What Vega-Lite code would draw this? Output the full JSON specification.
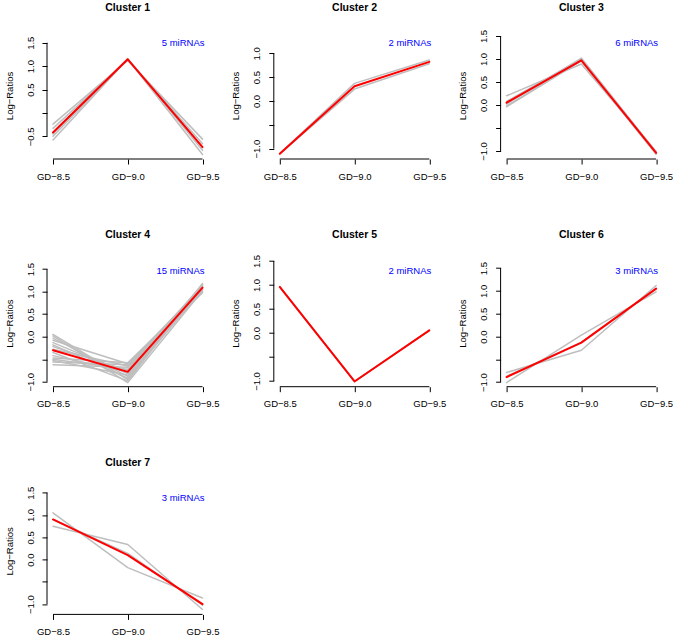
{
  "$schema": "https://vega.github.io/schema/vega-lite/v6.json",
  "padding": {"left": 4, "top": 2, "right": 0, "bottom": 0},
  "background": "white",
  "columns": 3,
  "bounds": "flush",
  "spacing": {"row": 82.7, "column": 64.8},
  "datasets": {
    "series": [
      {"cluster": 1, "series": "m1", "stage": 8.5, "value": -0.24}, {"cluster": 1, "series": "m1", "stage": 9.0, "value": 1.12}, {"cluster": 1, "series": "m1", "stage": 9.5, "value": -0.56},
      {"cluster": 1, "series": "m2", "stage": 8.5, "value": -0.33}, {"cluster": 1, "series": "m2", "stage": 9.0, "value": 1.14}, {"cluster": 1, "series": "m2", "stage": 9.5, "value": -0.66},
      {"cluster": 1, "series": "m3", "stage": 8.5, "value": -0.45}, {"cluster": 1, "series": "m3", "stage": 9.0, "value": 1.16}, {"cluster": 1, "series": "m3", "stage": 9.5, "value": -0.74},
      {"cluster": 1, "series": "m4", "stage": 8.5, "value": -0.50}, {"cluster": 1, "series": "m4", "stage": 9.0, "value": 1.15}, {"cluster": 1, "series": "m4", "stage": 9.5, "value": -0.80},
      {"cluster": 1, "series": "m5", "stage": 8.5, "value": -0.58}, {"cluster": 1, "series": "m5", "stage": 9.0, "value": 1.15}, {"cluster": 1, "series": "m5", "stage": 9.5, "value": -0.89},
      {"cluster": 1, "series": "center", "stage": 8.5, "value": -0.42}, {"cluster": 1, "series": "center", "stage": 9.0, "value": 1.145}, {"cluster": 1, "series": "center", "stage": 9.5, "value": -0.73},

      {"cluster": 2, "series": "m1", "stage": 8.5, "value": -1.10}, {"cluster": 2, "series": "m1", "stage": 9.0, "value": 0.37}, {"cluster": 2, "series": "m1", "stage": 9.5, "value": 0.86},
      {"cluster": 2, "series": "m2", "stage": 8.5, "value": -1.11}, {"cluster": 2, "series": "m2", "stage": 9.0, "value": 0.25}, {"cluster": 2, "series": "m2", "stage": 9.5, "value": 0.78},
      {"cluster": 2, "series": "center", "stage": 8.5, "value": -1.105}, {"cluster": 2, "series": "center", "stage": 9.0, "value": 0.31}, {"cluster": 2, "series": "center", "stage": 9.5, "value": 0.82},

      {"cluster": 3, "series": "m1", "stage": 8.5, "value": 0.20}, {"cluster": 3, "series": "m1", "stage": 9.0, "value": 0.89}, {"cluster": 3, "series": "m1", "stage": 9.5, "value": -1.01},
      {"cluster": 3, "series": "m2", "stage": 8.5, "value": 0.08}, {"cluster": 3, "series": "m2", "stage": 9.0, "value": 1.00}, {"cluster": 3, "series": "m2", "stage": 9.5, "value": -1.03},
      {"cluster": 3, "series": "m3", "stage": 8.5, "value": 0.04}, {"cluster": 3, "series": "m3", "stage": 9.0, "value": 0.98}, {"cluster": 3, "series": "m3", "stage": 9.5, "value": -1.05},
      {"cluster": 3, "series": "m4", "stage": 8.5, "value": 0.02}, {"cluster": 3, "series": "m4", "stage": 9.0, "value": 1.02}, {"cluster": 3, "series": "m4", "stage": 9.5, "value": -1.02},
      {"cluster": 3, "series": "m5", "stage": 8.5, "value": -0.02}, {"cluster": 3, "series": "m5", "stage": 9.0, "value": 0.97}, {"cluster": 3, "series": "m5", "stage": 9.5, "value": -1.06},
      {"cluster": 3, "series": "m6", "stage": 8.5, "value": -0.04}, {"cluster": 3, "series": "m6", "stage": 9.0, "value": 0.96}, {"cluster": 3, "series": "m6", "stage": 9.5, "value": -1.07},
      {"cluster": 3, "series": "center", "stage": 8.5, "value": 0.05}, {"cluster": 3, "series": "center", "stage": 9.0, "value": 0.97}, {"cluster": 3, "series": "center", "stage": 9.5, "value": -1.04},

      {"cluster": 4, "series": "m1", "stage": 8.5, "value": 0.05}, {"cluster": 4, "series": "m1", "stage": 9.0, "value": -0.95}, {"cluster": 4, "series": "m1", "stage": 9.5, "value": 1.18},
      {"cluster": 4, "series": "m2", "stage": 8.5, "value": 0.02}, {"cluster": 4, "series": "m2", "stage": 9.0, "value": -1.02}, {"cluster": 4, "series": "m2", "stage": 9.5, "value": 1.02},
      {"cluster": 4, "series": "m3", "stage": 8.5, "value": -0.03}, {"cluster": 4, "series": "m3", "stage": 9.0, "value": -0.88}, {"cluster": 4, "series": "m3", "stage": 9.5, "value": 1.12},
      {"cluster": 4, "series": "m4", "stage": 8.5, "value": -0.08}, {"cluster": 4, "series": "m4", "stage": 9.0, "value": -0.60}, {"cluster": 4, "series": "m4", "stage": 9.5, "value": 0.98},
      {"cluster": 4, "series": "m5", "stage": 8.5, "value": -0.13}, {"cluster": 4, "series": "m5", "stage": 9.0, "value": -0.82}, {"cluster": 4, "series": "m5", "stage": 9.5, "value": 1.15},
      {"cluster": 4, "series": "m6", "stage": 8.5, "value": -0.18}, {"cluster": 4, "series": "m6", "stage": 9.0, "value": -0.92}, {"cluster": 4, "series": "m6", "stage": 9.5, "value": 1.05},
      {"cluster": 4, "series": "m7", "stage": 8.5, "value": -0.22}, {"cluster": 4, "series": "m7", "stage": 9.0, "value": -0.75}, {"cluster": 4, "series": "m7", "stage": 9.5, "value": 1.10},
      {"cluster": 4, "series": "m8", "stage": 8.5, "value": -0.28}, {"cluster": 4, "series": "m8", "stage": 9.0, "value": -0.65}, {"cluster": 4, "series": "m8", "stage": 9.5, "value": 1.00},
      {"cluster": 4, "series": "m9", "stage": 8.5, "value": -0.35}, {"cluster": 4, "series": "m9", "stage": 9.0, "value": -0.98}, {"cluster": 4, "series": "m9", "stage": 9.5, "value": 1.14},
      {"cluster": 4, "series": "m10", "stage": 8.5, "value": -0.42}, {"cluster": 4, "series": "m10", "stage": 9.0, "value": -0.78}, {"cluster": 4, "series": "m10", "stage": 9.5, "value": 1.08},
      {"cluster": 4, "series": "m11", "stage": 8.5, "value": -0.47}, {"cluster": 4, "series": "m11", "stage": 9.0, "value": -0.58}, {"cluster": 4, "series": "m11", "stage": 9.5, "value": 1.03},
      {"cluster": 4, "series": "m12", "stage": 8.5, "value": -0.50}, {"cluster": 4, "series": "m12", "stage": 9.0, "value": -0.72}, {"cluster": 4, "series": "m12", "stage": 9.5, "value": 1.16},
      {"cluster": 4, "series": "m13", "stage": 8.5, "value": -0.53}, {"cluster": 4, "series": "m13", "stage": 9.0, "value": -0.85}, {"cluster": 4, "series": "m13", "stage": 9.5, "value": 1.06},
      {"cluster": 4, "series": "m14", "stage": 8.5, "value": -0.56}, {"cluster": 4, "series": "m14", "stage": 9.0, "value": -0.62}, {"cluster": 4, "series": "m14", "stage": 9.5, "value": 1.11},
      {"cluster": 4, "series": "m15", "stage": 8.5, "value": -0.62}, {"cluster": 4, "series": "m15", "stage": 9.0, "value": -0.68}, {"cluster": 4, "series": "m15", "stage": 9.5, "value": 1.09},
      {"cluster": 4, "series": "center", "stage": 8.5, "value": -0.30}, {"cluster": 4, "series": "center", "stage": 9.0, "value": -0.78}, {"cluster": 4, "series": "center", "stage": 9.5, "value": 1.09},

      {"cluster": 5, "series": "m1", "stage": 8.5, "value": 0.96}, {"cluster": 5, "series": "m1", "stage": 9.0, "value": -1.01}, {"cluster": 5, "series": "m1", "stage": 9.5, "value": 0.055},
      {"cluster": 5, "series": "m2", "stage": 8.5, "value": 0.96}, {"cluster": 5, "series": "m2", "stage": 9.0, "value": -1.01}, {"cluster": 5, "series": "m2", "stage": 9.5, "value": 0.055},
      {"cluster": 5, "series": "center", "stage": 8.5, "value": 0.96}, {"cluster": 5, "series": "center", "stage": 9.0, "value": -1.01}, {"cluster": 5, "series": "center", "stage": 9.5, "value": 0.055},

      {"cluster": 6, "series": "m1", "stage": 8.5, "value": -0.79}, {"cluster": 6, "series": "m1", "stage": 9.0, "value": -0.30}, {"cluster": 6, "series": "m1", "stage": 9.5, "value": 1.12},
      {"cluster": 6, "series": "m2", "stage": 8.5, "value": -1.01}, {"cluster": 6, "series": "m2", "stage": 9.0, "value": 0.03}, {"cluster": 6, "series": "m2", "stage": 9.5, "value": 0.98},
      {"cluster": 6, "series": "m3", "stage": 8.5, "value": -0.87}, {"cluster": 6, "series": "m3", "stage": 9.0, "value": -0.13}, {"cluster": 6, "series": "m3", "stage": 9.5, "value": 1.05},
      {"cluster": 6, "series": "center", "stage": 8.5, "value": -0.89}, {"cluster": 6, "series": "center", "stage": 9.0, "value": -0.135}, {"cluster": 6, "series": "center", "stage": 9.5, "value": 1.05},

      {"cluster": 7, "series": "m1", "stage": 8.5, "value": 1.05}, {"cluster": 7, "series": "m1", "stage": 9.0, "value": -0.18}, {"cluster": 7, "series": "m1", "stage": 9.5, "value": -0.86},
      {"cluster": 7, "series": "m2", "stage": 8.5, "value": 0.75}, {"cluster": 7, "series": "m2", "stage": 9.0, "value": 0.34}, {"cluster": 7, "series": "m2", "stage": 9.5, "value": -1.12},
      {"cluster": 7, "series": "m3", "stage": 8.5, "value": 0.90}, {"cluster": 7, "series": "m3", "stage": 9.0, "value": 0.14}, {"cluster": 7, "series": "m3", "stage": 9.5, "value": -1.02},
      {"cluster": 7, "series": "center", "stage": 8.5, "value": 0.90}, {"cluster": 7, "series": "center", "stage": 9.0, "value": 0.10}, {"cluster": 7, "series": "center", "stage": 9.5, "value": -1.00}
    ],
    "counts": [
      {"cluster": 1, "label": "5 miRNAs"},
      {"cluster": 2, "label": "2 miRNAs"},
      {"cluster": 3, "label": "6 miRNAs"},
      {"cluster": 4, "label": "15 miRNAs"},
      {"cluster": 5, "label": "2 miRNAs"},
      {"cluster": 6, "label": "3 miRNAs"},
      {"cluster": 7, "label": "3 miRNAs"}
    ]
  },
  "concat": [
    {
      "width": 161.5, "height": 145,
      "title": {"text": "Cluster 1", "frame": "group"},
      "layer": [
        {"data": {"name": "series"}, "transform": [{"filter": "datum.cluster == 1 && datum.series != 'center'"}],
         "mark": {"type": "line", "color": "#bebebe", "strokeWidth": 1.5, "strokeJoin": "round", "strokeCap": "round"},
         "encoding": {
           "x": {"field": "stage", "type": "quantitative", "scale": {"domain": [8.46, 9.54], "nice": false, "zero": false}, "axis": {"values": [8.5, 9, 9.5], "tickCount": 10, "labelExpr": "'GD−' + format(datum.value, '.1f')", "title": null}},
           "y": {"field": "value", "type": "quantitative", "scale": {"domain": [-0.985, 2.114], "nice": false, "zero": false}, "axis": {"values": [-0.5, 0, 0.5, 1, 1.5], "tickCount": 10, "labelExpr": "datum.value == 0 ? '' : format(datum.value, '.1f')", "title": "Log−Ratios"}},
           "detail": {"field": "series", "type": "nominal"}}},
        {"data": {"name": "series"}, "transform": [{"filter": "datum.cluster == 1 && datum.series == 'center'"}],
         "mark": {"type": "line", "color": "#ff0000", "strokeWidth": 2, "strokeJoin": "round", "strokeCap": "round"},
         "encoding": {"x": {"field": "stage", "type": "quantitative", "title": null}, "y": {"field": "value", "type": "quantitative", "title": "Log−Ratios"}}},
        {"data": {"name": "counts"}, "transform": [{"filter": "datum.cluster == 1"}],
         "mark": {"type": "text", "align": "right", "baseline": "middle", "dx": -4, "dy": 11, "color": "#0000ff", "font": "Liberation Sans", "fontSize": 9.5},
         "encoding": {"x": {"datum": 9.54}, "y": {"datum": 1.729}, "text": {"field": "label"}}},
        {"data": {"name": "counts"}, "transform": [{"filter": "datum.cluster == 1"}],
         "mark": {"type": "rule", "color": "black", "strokeWidth": 1},
         "encoding": {"x": {"datum": 8.46}, "y": {"datum": -0.5}, "y2": {"datum": 1.5}}},
        {"data": {"name": "counts"}, "transform": [{"filter": "datum.cluster == 1"}],
         "mark": {"type": "rule", "color": "black", "strokeWidth": 1},
         "encoding": {"x": {"datum": 8.5}, "x2": {"datum": 9.5}, "y": {"datum": -0.985}}}
      ]
    },
    {
      "width": 161.5, "height": 145,
      "title": {"text": "Cluster 2", "frame": "group"},
      "layer": [
        {"data": {"name": "series"}, "transform": [{"filter": "datum.cluster == 2 && datum.series != 'center'"}],
         "mark": {"type": "line", "color": "#bebebe", "strokeWidth": 1.5, "strokeJoin": "round", "strokeCap": "round"},
         "encoding": {
           "x": {"field": "stage", "type": "quantitative", "scale": {"domain": [8.46, 9.54], "nice": false, "zero": false}, "axis": {"values": [8.5, 9, 9.5], "tickCount": 10, "labelExpr": "'GD−' + format(datum.value, '.1f')", "title": null}},
           "y": {"field": "value", "type": "quantitative", "scale": {"domain": [-1.216, 1.824], "nice": false, "zero": false}, "axis": {"values": [-1, -0.5, 0, 0.5, 1], "tickCount": 10, "labelExpr": "datum.value == -0.5 ? '' : format(datum.value, '.1f')", "title": "Log−Ratios"}},
           "detail": {"field": "series", "type": "nominal"}}},
        {"data": {"name": "series"}, "transform": [{"filter": "datum.cluster == 2 && datum.series == 'center'"}],
         "mark": {"type": "line", "color": "#ff0000", "strokeWidth": 2, "strokeJoin": "round", "strokeCap": "round"},
         "encoding": {"x": {"field": "stage", "type": "quantitative", "title": null}, "y": {"field": "value", "type": "quantitative", "title": "Log−Ratios"}}},
        {"data": {"name": "counts"}, "transform": [{"filter": "datum.cluster == 2"}],
         "mark": {"type": "text", "align": "right", "baseline": "middle", "dx": -4, "dy": 11, "color": "#0000ff", "font": "Liberation Sans", "fontSize": 9.5},
         "encoding": {"x": {"datum": 9.54}, "y": {"datum": 1.447}, "text": {"field": "label"}}},
        {"data": {"name": "counts"}, "transform": [{"filter": "datum.cluster == 2"}],
         "mark": {"type": "rule", "color": "black", "strokeWidth": 1},
         "encoding": {"x": {"datum": 8.46}, "y": {"datum": -1}, "y2": {"datum": 1}}},
        {"data": {"name": "counts"}, "transform": [{"filter": "datum.cluster == 2"}],
         "mark": {"type": "rule", "color": "black", "strokeWidth": 1},
         "encoding": {"x": {"datum": 8.5}, "x2": {"datum": 9.5}, "y": {"datum": -1.216}}}
      ]
    },
    {
      "width": 161.5, "height": 145,
      "title": {"text": "Cluster 3", "frame": "group"},
      "layer": [
        {"data": {"name": "series"}, "transform": [{"filter": "datum.cluster == 3 && datum.series != 'center'"}],
         "mark": {"type": "line", "color": "#bebebe", "strokeWidth": 1.5, "strokeJoin": "round", "strokeCap": "round"},
         "encoding": {
           "x": {"field": "stage", "type": "quantitative", "scale": {"domain": [8.46, 9.54], "nice": false, "zero": false}, "axis": {"values": [8.5, 9, 9.5], "tickCount": 10, "labelExpr": "'GD−' + format(datum.value, '.1f')", "title": null}},
           "y": {"field": "value", "type": "quantitative", "scale": {"domain": [-1.174, 1.978], "nice": false, "zero": false}, "axis": {"values": [-1, -0.5, 0, 0.5, 1, 1.5], "tickCount": 10, "labelExpr": "datum.value == -0.5 ? '' : format(datum.value, '.1f')", "title": "Log−Ratios"}},
           "detail": {"field": "series", "type": "nominal"}}},
        {"data": {"name": "series"}, "transform": [{"filter": "datum.cluster == 3 && datum.series == 'center'"}],
         "mark": {"type": "line", "color": "#ff0000", "strokeWidth": 2, "strokeJoin": "round", "strokeCap": "round"},
         "encoding": {"x": {"field": "stage", "type": "quantitative", "title": null}, "y": {"field": "value", "type": "quantitative", "title": "Log−Ratios"}}},
        {"data": {"name": "counts"}, "transform": [{"filter": "datum.cluster == 3"}],
         "mark": {"type": "text", "align": "right", "baseline": "middle", "dx": -4, "dy": 11, "color": "#0000ff", "font": "Liberation Sans", "fontSize": 9.5},
         "encoding": {"x": {"datum": 9.54}, "y": {"datum": 1.587}, "text": {"field": "label"}}},
        {"data": {"name": "counts"}, "transform": [{"filter": "datum.cluster == 3"}],
         "mark": {"type": "rule", "color": "black", "strokeWidth": 1},
         "encoding": {"x": {"datum": 8.46}, "y": {"datum": -1}, "y2": {"datum": 1.5}}},
        {"data": {"name": "counts"}, "transform": [{"filter": "datum.cluster == 3"}],
         "mark": {"type": "rule", "color": "black", "strokeWidth": 1},
         "encoding": {"x": {"datum": 8.5}, "x2": {"datum": 9.5}, "y": {"datum": -1.174}}}
      ]
    },
    {
      "width": 161.5, "height": 145,
      "title": {"text": "Cluster 4", "frame": "group"},
      "layer": [
        {"data": {"name": "series"}, "transform": [{"filter": "datum.cluster == 4 && datum.series != 'center'"}],
         "mark": {"type": "line", "color": "#bebebe", "strokeWidth": 1.5, "strokeJoin": "round", "strokeCap": "round"},
         "encoding": {
           "x": {"field": "stage", "type": "quantitative", "scale": {"domain": [8.46, 9.54], "nice": false, "zero": false}, "axis": {"values": [8.5, 9, 9.5], "tickCount": 10, "labelExpr": "'GD−' + format(datum.value, '.1f')", "title": null}},
           "y": {"field": "value", "type": "quantitative", "scale": {"domain": [-1.11, 2.11], "nice": false, "zero": false}, "axis": {"values": [-1, -0.5, 0, 0.5, 1, 1.5], "tickCount": 10, "labelExpr": "datum.value == -0.5 ? '' : format(datum.value, '.1f')", "title": "Log−Ratios"}},
           "detail": {"field": "series", "type": "nominal"}}},
        {"data": {"name": "series"}, "transform": [{"filter": "datum.cluster == 4 && datum.series == 'center'"}],
         "mark": {"type": "line", "color": "#ff0000", "strokeWidth": 2, "strokeJoin": "round", "strokeCap": "round"},
         "encoding": {"x": {"field": "stage", "type": "quantitative", "title": null}, "y": {"field": "value", "type": "quantitative", "title": "Log−Ratios"}}},
        {"data": {"name": "counts"}, "transform": [{"filter": "datum.cluster == 4"}],
         "mark": {"type": "text", "align": "right", "baseline": "middle", "dx": -4, "dy": 11, "color": "#0000ff", "font": "Liberation Sans", "fontSize": 9.5},
         "encoding": {"x": {"datum": 9.54}, "y": {"datum": 1.71}, "text": {"field": "label"}}},
        {"data": {"name": "counts"}, "transform": [{"filter": "datum.cluster == 4"}],
         "mark": {"type": "rule", "color": "black", "strokeWidth": 1},
         "encoding": {"x": {"datum": 8.46}, "y": {"datum": -1}, "y2": {"datum": 1.5}}},
        {"data": {"name": "counts"}, "transform": [{"filter": "datum.cluster == 4"}],
         "mark": {"type": "rule", "color": "black", "strokeWidth": 1},
         "encoding": {"x": {"datum": 8.5}, "x2": {"datum": 9.5}, "y": {"datum": -1.11}}}
      ]
    },
    {
      "width": 161.5, "height": 145,
      "title": {"text": "Cluster 5", "frame": "group"},
      "layer": [
        {"data": {"name": "series"}, "transform": [{"filter": "datum.cluster == 5 && datum.series != 'center'"}],
         "mark": {"type": "line", "color": "#bebebe", "strokeWidth": 1.5, "strokeJoin": "round", "strokeCap": "round"},
         "encoding": {
           "x": {"field": "stage", "type": "quantitative", "scale": {"domain": [8.46, 9.54], "nice": false, "zero": false}, "axis": {"values": [8.5, 9, 9.5], "tickCount": 10, "labelExpr": "'GD−' + format(datum.value, '.1f')", "title": null}},
           "y": {"field": "value", "type": "quantitative", "scale": {"domain": [-1.119, 1.902], "nice": false, "zero": false}, "axis": {"values": [-1, -0.5, 0, 0.5, 1, 1.5], "tickCount": 10, "labelExpr": "datum.value == -0.5 ? '' : format(datum.value, '.1f')", "title": "Log−Ratios"}},
           "detail": {"field": "series", "type": "nominal"}}},
        {"data": {"name": "series"}, "transform": [{"filter": "datum.cluster == 5 && datum.series == 'center'"}],
         "mark": {"type": "line", "color": "#ff0000", "strokeWidth": 2, "strokeJoin": "round", "strokeCap": "round"},
         "encoding": {"x": {"field": "stage", "type": "quantitative", "title": null}, "y": {"field": "value", "type": "quantitative", "title": "Log−Ratios"}}},
        {"data": {"name": "counts"}, "transform": [{"filter": "datum.cluster == 5"}],
         "mark": {"type": "text", "align": "right", "baseline": "middle", "dx": -4, "dy": 11, "color": "#0000ff", "font": "Liberation Sans", "fontSize": 9.5},
         "encoding": {"x": {"datum": 9.54}, "y": {"datum": 1.527}, "text": {"field": "label"}}},
        {"data": {"name": "counts"}, "transform": [{"filter": "datum.cluster == 5"}],
         "mark": {"type": "rule", "color": "black", "strokeWidth": 1},
         "encoding": {"x": {"datum": 8.46}, "y": {"datum": -1}, "y2": {"datum": 1.5}}},
        {"data": {"name": "counts"}, "transform": [{"filter": "datum.cluster == 5"}],
         "mark": {"type": "rule", "color": "black", "strokeWidth": 1},
         "encoding": {"x": {"datum": 8.5}, "x2": {"datum": 9.5}, "y": {"datum": -1.119}}}
      ]
    },
    {
      "width": 161.5, "height": 145,
      "title": {"text": "Cluster 6", "frame": "group"},
      "layer": [
        {"data": {"name": "series"}, "transform": [{"filter": "datum.cluster == 6 && datum.series != 'center'"}],
         "mark": {"type": "line", "color": "#bebebe", "strokeWidth": 1.5, "strokeJoin": "round", "strokeCap": "round"},
         "encoding": {
           "x": {"field": "stage", "type": "quantitative", "scale": {"domain": [8.46, 9.54], "nice": false, "zero": false}, "axis": {"values": [8.5, 9, 9.5], "tickCount": 10, "labelExpr": "'GD−' + format(datum.value, '.1f')", "title": null}},
           "y": {"field": "value", "type": "quantitative", "scale": {"domain": [-1.10, 2.079], "nice": false, "zero": false}, "axis": {"values": [-1, -0.5, 0, 0.5, 1, 1.5], "tickCount": 10, "labelExpr": "datum.value == -0.5 ? '' : format(datum.value, '.1f')", "title": "Log−Ratios"}},
           "detail": {"field": "series", "type": "nominal"}}},
        {"data": {"name": "series"}, "transform": [{"filter": "datum.cluster == 6 && datum.series == 'center'"}],
         "mark": {"type": "line", "color": "#ff0000", "strokeWidth": 2, "strokeJoin": "round", "strokeCap": "round"},
         "encoding": {"x": {"field": "stage", "type": "quantitative", "title": null}, "y": {"field": "value", "type": "quantitative", "title": "Log−Ratios"}}},
        {"data": {"name": "counts"}, "transform": [{"filter": "datum.cluster == 6"}],
         "mark": {"type": "text", "align": "right", "baseline": "middle", "dx": -4, "dy": 11, "color": "#0000ff", "font": "Liberation Sans", "fontSize": 9.5},
         "encoding": {"x": {"datum": 9.54}, "y": {"datum": 1.684}, "text": {"field": "label"}}},
        {"data": {"name": "counts"}, "transform": [{"filter": "datum.cluster == 6"}],
         "mark": {"type": "rule", "color": "black", "strokeWidth": 1},
         "encoding": {"x": {"datum": 8.46}, "y": {"datum": -1}, "y2": {"datum": 1.5}}},
        {"data": {"name": "counts"}, "transform": [{"filter": "datum.cluster == 6"}],
         "mark": {"type": "rule", "color": "black", "strokeWidth": 1},
         "encoding": {"x": {"datum": 8.5}, "x2": {"datum": 9.5}, "y": {"datum": -1.10}}}
      ]
    },
    {
      "width": 161.5, "height": 145,
      "title": {"text": "Cluster 7", "frame": "group"},
      "layer": [
        {"data": {"name": "series"}, "transform": [{"filter": "datum.cluster == 7 && datum.series != 'center'"}],
         "mark": {"type": "line", "color": "#bebebe", "strokeWidth": 1.5, "strokeJoin": "round", "strokeCap": "round"},
         "encoding": {
           "x": {"field": "stage", "type": "quantitative", "scale": {"domain": [8.46, 9.54], "nice": false, "zero": false}, "axis": {"values": [8.5, 9, 9.5], "tickCount": 10, "labelExpr": "'GD−' + format(datum.value, '.1f')", "title": null}},
           "y": {"field": "value", "type": "quantitative", "scale": {"domain": [-1.229, 2.023], "nice": false, "zero": false}, "axis": {"values": [-1, -0.5, 0, 0.5, 1, 1.5], "tickCount": 10, "labelExpr": "datum.value == -0.5 ? '' : format(datum.value, '.1f')", "title": "Log−Ratios"}},
           "detail": {"field": "series", "type": "nominal"}}},
        {"data": {"name": "series"}, "transform": [{"filter": "datum.cluster == 7 && datum.series == 'center'"}],
         "mark": {"type": "line", "color": "#ff0000", "strokeWidth": 2, "strokeJoin": "round", "strokeCap": "round"},
         "encoding": {"x": {"field": "stage", "type": "quantitative", "title": null}, "y": {"field": "value", "type": "quantitative", "title": "Log−Ratios"}}},
        {"data": {"name": "counts"}, "transform": [{"filter": "datum.cluster == 7"}],
         "mark": {"type": "text", "align": "right", "baseline": "middle", "dx": -4, "dy": 11, "color": "#0000ff", "font": "Liberation Sans", "fontSize": 9.5},
         "encoding": {"x": {"datum": 9.54}, "y": {"datum": 1.619}, "text": {"field": "label"}}},
        {"data": {"name": "counts"}, "transform": [{"filter": "datum.cluster == 7"}],
         "mark": {"type": "rule", "color": "black", "strokeWidth": 1},
         "encoding": {"x": {"datum": 8.46}, "y": {"datum": -1}, "y2": {"datum": 1.5}}},
        {"data": {"name": "counts"}, "transform": [{"filter": "datum.cluster == 7"}],
         "mark": {"type": "rule", "color": "black", "strokeWidth": 1},
         "encoding": {"x": {"datum": 8.5}, "x2": {"datum": 9.5}, "y": {"datum": -1.229}}}
      ]
    }
  ],
  "config": {
    "view": {"stroke": null},
    "font": "Liberation Sans",
    "title": {"font": "Liberation Sans", "fontSize": 10.5, "fontWeight": "bold", "color": "black", "baseline": "alphabetic", "offset": 1, "anchor": "middle"},
    "axis": {"domain": false, "grid": false, "ticks": true, "tickColor": "black", "tickSize": 5, "tickWidth": 1, "labelFont": "Liberation Sans", "labelFontSize": 9.5, "labelColor": "black", "labelFlush": false, "labelOverlap": false, "titleFont": "Liberation Sans", "titleFontSize": 9.5, "titleFontWeight": "normal", "titleColor": "black"},
    "axisY": {"labelAngle": -90, "labelAlign": "center", "labelBaseline": "bottom", "labelPadding": 7, "titlePadding": 11, "titleY": 81.5},
    "axisX": {"labelPadding": 7, "labelBaseline": "top"}
  }
}
